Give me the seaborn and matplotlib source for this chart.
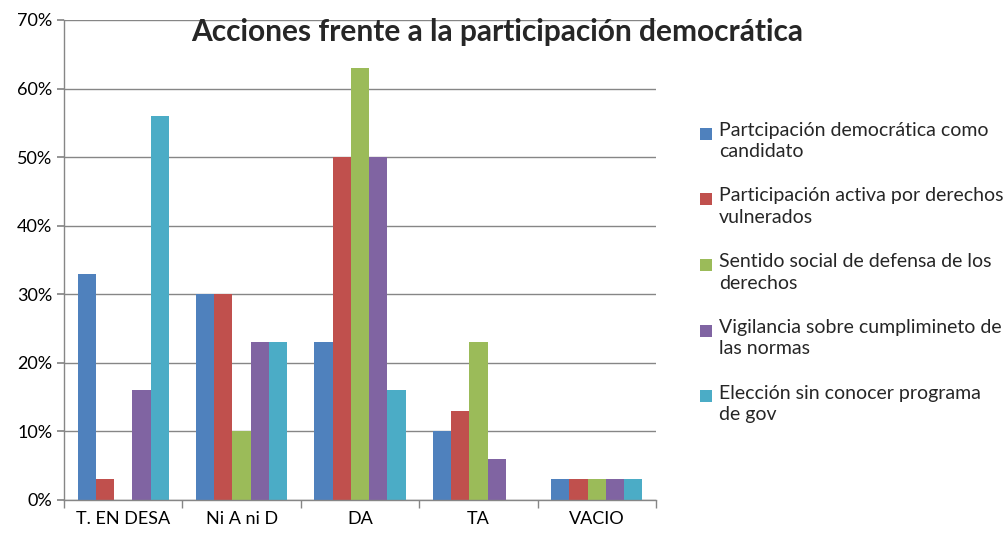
import matplotlib
matplotlib.use("Agg")
import matplotlib.pyplot as plt
import seaborn as sns
import pandas as pd
from matplotlib.ticker import PercentFormatter, FixedLocator
from matplotlib.legend_handler import HandlerPatch
from matplotlib.patches import Rectangle

categories = ["T. EN DESA", "Ni A ni D", "DA", "TA", "VACIO"]
series_names = [
    "Partcipación democrática como\ncandidato",
    "Participación activa por derechos\nvulnerados",
    "Sentido social de defensa de los\nderechos",
    "Vigilancia sobre cumplimineto de\nlas normas",
    "Elección sin conocer programa\nde gov",
]
s1 = [33, 30, 23, 10, 3]
s2 = [3, 30, 50, 13, 3]
s3 = [0, 10, 63, 23, 3]
s4 = [16, 23, 50, 6, 3]
s5 = [56, 23, 16, 0, 3]
colors = ["#4F81BD", "#C0504D", "#9BBB59", "#8064A2", "#4BACC6"]
title = "Acciones frente a la participación democrática"

rows = []
for name, vals in zip(series_names, [s1, s2, s3, s4, s5]):
    for c, v in zip(categories, vals):
        rows.append({"cat": c, "serie": name, "val": v})
df = pd.DataFrame(rows)

sns.set_theme(style="white")
plt.rcParams["font.family"] = ["Lato", "DejaVu Sans"]

fig = plt.figure(figsize=(10.08, 5.37), dpi=100)
ax = fig.add_axes([64/1008, 37/537, 592/1008, 480/537])
sns.barplot(data=df, x="cat", y="val", hue="serie", order=categories,
            hue_order=series_names, palette=colors, width=0.77, gap=0,
            saturation=1, ax=ax, legend=True, linewidth=0)

ax.set_ylim(0, 70)
ax.set_xlim(-0.5, 4.5)
ax.yaxis.set_major_formatter(PercentFormatter(decimals=0))
ax.set_yticks(range(0, 71, 10))
ax.grid(axis="y", color="#868686", linewidth=1)
ax.set_axisbelow(True)
for sp in ["top", "right"]:
    ax.spines[sp].set_visible(False)
for sp in ["left", "bottom"]:
    ax.spines[sp].set_color("#868686")
    ax.spines[sp].set_linewidth(1)
ax.set_xlabel("")
ax.set_ylabel("")
ax.tick_params(axis="x", which="major", length=0, labelsize=13, pad=8, colors="black")
ax.xaxis.set_minor_locator(FixedLocator([-0.5, 0.5, 1.5, 2.5, 3.5, 4.5]))
ax.tick_params(axis="x", which="minor", length=6, color="#868686", direction="out", bottom=True)
ax.tick_params(axis="y", length=5, color="#868686", labelsize=13, colors="black", left=True)

FS = 14


def top_square(legend, orig_handle, xdescent, ydescent, width, height, fontsize):
    sq = 0.62 * fontsize
    return Rectangle((-xdescent, -ydescent + height - sq - 0.1 * fontsize), sq, sq)


handles, labels = ax.get_legend_handles_labels()
ax.legend_.remove()
leg = fig.legend(handles, labels, loc="upper left", bbox_to_anchor=(692/1008, 1 - 114/537),
                 frameon=False, fontsize=FS, handlelength=0.62, handleheight=2.2,
                 handletextpad=0.35, labelspacing=1.4, borderaxespad=0,
                 handler_map={Rectangle: HandlerPatch(patch_func=top_square)})
for t in leg.get_texts():
    t.set_linespacing(1.32)

fig.text(497/1008, 1 - 32/537, title, ha="center", va="center",
         fontsize=21.5, fontweight="bold")

fig.savefig("out.png", dpi=100)
